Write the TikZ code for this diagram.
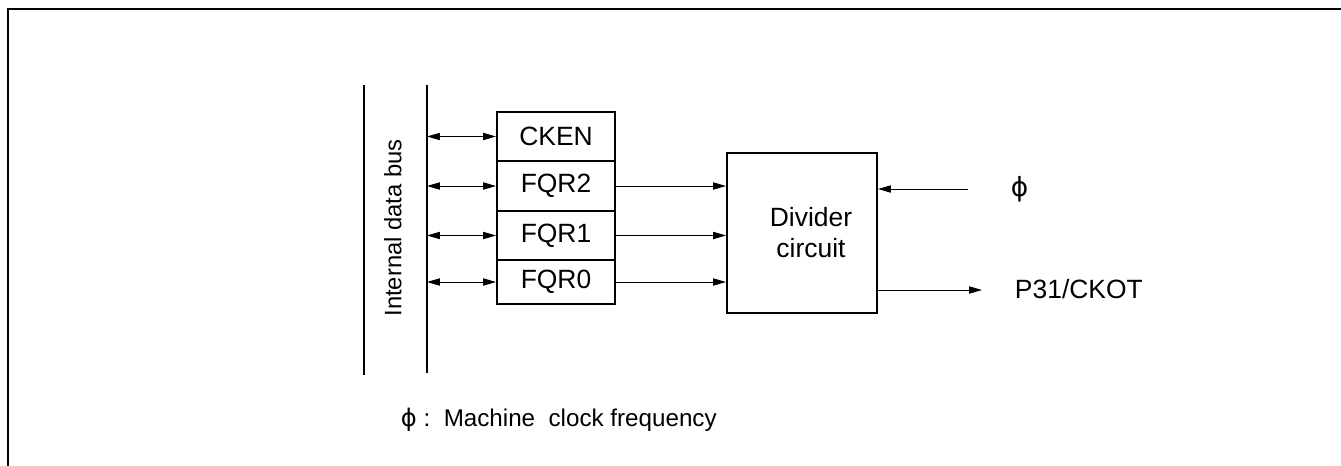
\documentclass[tikz,border=0pt]{standalone}
\usepackage{fontspec}
\setmainfont{Liberation Sans}
\newfontfamily\phifont{DejaVu Sans}
\usetikzlibrary{arrows.meta}

\newcommand{\clk}{{\phifont\symbol{"03D5}}}
\tikzset{
  regbox/.style={draw,line width=1.4pt,minimum width=2.95cm,inner sep=0pt},
  sig/.style={line width=0.7pt,-{Triangle[length=0.32cm,width=0.18cm]}},
  bisig/.style={line width=0.7pt,{Triangle[length=0.32cm,width=0.18cm]}-{Triangle[length=0.32cm,width=0.18cm]}}
}

\begin{document}
\begin{tikzpicture}[x=0.025cm,y=-0.025cm,font=\fontsize{18.8}{22}\selectfont]
      % page size 1341 x 466 px, one unit = one px
      \useasboundingbox (0,0) rectangle (1341,466);
      % open frame (left and top only)
      \draw[line width=1.6pt] (8,466) -- (8,9) -- (1341,9);
      % internal data bus
      \coordinate (busLtop) at (364,85);
      \coordinate (busLbot) at (364,375);
      \coordinate (busRtop) at (427,85);
      \coordinate (busRbot) at (427,373);
      \draw[line width=1.4pt] (busLtop) -- (busLbot);
      \draw[line width=1.4pt] (busRtop) -- (busRbot);
      \node[rotate=90,font=\fontsize{16.9}{20}\selectfont] (busLbl) at (393,228) {Internal data bus};
      % registers (heights 49, 50, 49, 44)
      \node[regbox,minimum height=1.225cm] (cken) at (556,136.5) {CKEN};
      \node[regbox,minimum height=1.25cm] (fqr2) at (556,186) {FQR2};
      \node[regbox,minimum height=1.225cm] (fqr1) at (556,235.5) {FQR1};
      \node[regbox,minimum height=1.1cm] (fqr0) at (556,282) {FQR0};
      % divider
      \node[draw,line width=1.4pt,minimum width=3.75cm,minimum height=4cm,align=center] (div) at (802,233) {\hspace*{0.45cm}Divider\\\hspace*{0.45cm}circuit};
      % bus <-> registers
      \foreach \r in {cken,fqr2,fqr1,fqr0} {
        \draw[bisig] (\r.west -| busRtop) -- (\r.west);
      }
      % registers -> divider
      \foreach \r in {fqr2,fqr1,fqr0} {
        \draw[sig] (\r.east) -- (\r.east -| div.west);
      }
      % clock in, clock out
      \node[anchor=west] (phi) at (1006,189) {\clk};
      \coordinate (phiEnd) at (968,189);
      \draw[sig] (phiEnd) -- (phiEnd -| div.east);
      \node[anchor=west] (ckot) at (1010,289) {P31/CKOT};
      \coordinate (outEnd) at (982,290);
      \draw[sig] (outEnd -| div.east) -- (outEnd);
      % note
      \node[anchor=west,font=\fontsize{17.2}{20}\selectfont] (note) at (396,420) {\clk\ :\ \ Machine\ \ clock frequency};
    \end{tikzpicture}
\end{document}
